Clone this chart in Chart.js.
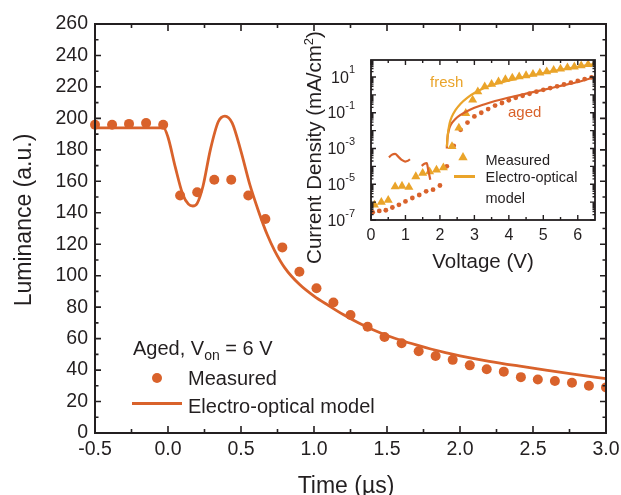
<!DOCTYPE html>
<html>
<head>
<meta charset="utf-8">
<script src="https://cdn.jsdelivr.net/npm/chart.js@4.4.1/dist/chart.umd.min.js"></script>
<style>
  html, body { margin: 0; padding: 0; background: #fff; }
  #wrap { position: relative; width: 621px; height: 495px; overflow: hidden; }
  #main { position: absolute; left: 0; top: 0; }
  #inset { position: absolute; left: 290px; top: 10px; }
</style>
</head>
<body>
<div id="wrap">
  <canvas id="main" width="621" height="495"></canvas>
  <canvas id="inset" width="320" height="270"></canvas>
</div>
<script>
// ---- Transient luminance (aged device, V_on = 6 V) ----
const timeUs = [-0.5, -0.383, -0.267, -0.15, -0.033, 0.083, 0.2, 0.317, 0.433, 0.55, 0.667,
  0.783, 0.9, 1.017, 1.133, 1.25, 1.367, 1.483, 1.6, 1.717, 1.833, 1.95, 2.067, 2.183,
  2.3, 2.417, 2.533, 2.65, 2.767, 2.883, 3.0];
const lumMeasured = [196, 196, 196.5, 197, 196, 151, 153, 161, 161, 151, 136,
  118, 102.5, 92, 83, 75, 67.5, 61, 57, 52, 49, 46.5, 43, 40.5,
  39, 35.5, 34, 33, 32, 30, 29];

const modelTimeUs = [-0.5, -0.03, 0.0, 0.05, 0.1, 0.14, 0.17, 0.2, 0.24, 0.29, 0.345, 0.39,
  0.44, 0.5, 0.56, 0.62, 0.68, 0.73, 0.8, 0.9, 1.0, 1.1, 1.2, 1.3, 1.4, 1.5, 1.6, 1.7,
  1.8, 1.9, 2.0, 2.2, 2.4, 2.6, 2.8, 3.0];
const modelLum = [194, 194, 188, 169, 152, 145.5, 144.3, 146, 157, 180, 198, 201.5,
  197, 179, 158, 141, 126, 116, 105, 94.5, 87, 81, 75.3, 70.2, 65.8, 62, 58.8, 56,
  53.4, 51.1, 49.1, 45.6, 42.6, 39.8, 37.1, 34.5];

const timeTicks = { min: -0.5, max: 3.0, step: 0.5 };
const lumTicks = { min: 0, max: 260, step: 20 };

// ---- Inset: J-V curves (mA/cm^2) ----
const freshV = [0.1, 0.3, 0.5, 0.7, 0.9, 1.1, 1.3, 1.5, 1.7, 1.9, 2.1, 2.35, 2.55, 2.75, 2.95,
  3.1, 3.3, 3.5, 3.7, 3.9, 4.1, 4.3, 4.5, 4.7, 4.9, 5.1, 5.3, 5.5, 5.7, 5.9, 6.1, 6.3, 6.5];
const freshJ = [7e-7, 1e-6, 1.3e-6, 7.4e-6, 7.9e-6, 6.9e-6, 2.7e-5, 4.2e-5, 5.1e-5, 6.3e-5, 8.5e-5,
  1.3e-3, 0.014, 0.093, 0.52, 1.5, 2.9, 4.0, 5.5, 7.2, 8.9, 10.5, 12, 14.5, 17, 20, 24, 28,
  33, 37, 43, 50, 57];

const agedV = [0.05, 0.24, 0.43, 0.62, 0.81, 1.0, 1.2, 1.4, 1.6, 1.8, 2.0, 2.2, 2.4, 2.6, 2.8,
  3.0, 3.2, 3.4, 3.6, 3.8, 4.0, 4.2, 4.4, 4.6, 4.8, 5.0, 5.2, 5.4, 5.6, 5.8, 6.0, 6.2, 6.4];
const agedJ = [2.7e-7, 3.2e-7, 3.5e-7, 5e-7, 7.1e-7, 1.1e-6, 1.7e-6, 2.5e-6, 4e-6, 5e-6, 8.5e-6,
  1e-4, 1.4e-3, 0.011, 0.028, 0.062, 0.1, 0.16, 0.25, 0.35, 0.5, 0.68, 0.89, 1.15, 1.5, 1.9,
  2.4, 3.0, 3.8, 4.8, 6.0, 7.6, 9.5];

const freshModelV = [2.2, 2.23, 2.28, 2.35, 2.45, 2.6, 2.8, 3.0, 3.3, 3.7, 4.2, 4.7, 5.2, 5.7, 6.2, 6.5];
const freshModelJ = [1.26e-3, 6.3e-3, 0.025, 0.063, 0.14, 0.32, 0.71, 1.26, 2.5, 4.5, 7.9, 12.6,
  20, 29.5, 42.7, 52.5];

const agedModelV = [2.2, 2.22, 2.26, 2.32, 2.45, 2.6, 2.8, 3.0, 3.3, 3.6, 4.0, 4.5, 5.0, 5.5, 6.0, 6.5];
const agedModelJ = [1e-3, 4e-3, 0.011, 0.022, 0.045, 0.076, 0.126, 0.19, 0.3, 0.45, 0.71, 1.17,
  1.9, 3.16, 5.25, 10];

// low-bias pieces of the aged model
const agedModelLowAV = [0.52, 0.6, 0.7, 0.79, 0.89, 0.99, 1.08, 1.13];
const agedModelLowAJ = [3.2e-4, 4.4e-4, 5e-4, 3.5e-4, 2.3e-4, 1.86e-4, 2.1e-4, 2.5e-4];
const agedModelLowBV = [1.47, 1.55, 1.62, 1.66, 1.69, 1.72];
const agedModelLowBJ = [1.07e-4, 1.4e-4, 1.5e-4, 6.3e-5, 3.5e-5, 1.8e-5];

const voltTicks = { min: 0, max: 6.5, step: 1 };
const jRange = { min: 1e-7, max: 89 };
const jLabelExponents = [1, -1, -3, -5, -7];

// ---- styling ----
const INK = '#231f20';
const AGED = '#d9622b';
const FRESH = '#eaa42a';
const FONT = "'Liberation Sans', Arial, Helvetica, sans-serif";

function pts(xs, ys) { return xs.map((x, i) => ({ x: x, y: ys[i] })); }

function drawRuns(ctx, runs, x, y, align) {
  let total = 0;
  runs.forEach(r => {
    ctx.font = r.size + 'px ' + FONT;
    r.w = ctx.measureText(r.text).width;
    total += r.w;
  });
  let cx = align === 'center' ? x - total / 2 : (align === 'right' ? x - total : x);
  ctx.textAlign = 'left';
  ctx.textBaseline = 'alphabetic';
  runs.forEach(r => {
    ctx.font = r.size + 'px ' + FONT;
    ctx.fillText(r.text, cx, y + (r.dy || 0));
    cx += r.w;
  });
}

function tickLines(ctx, scale, values, len, a, horizontal) {
  ctx.beginPath();
  values.forEach(v => {
    const p = scale.getPixelForValue(v);
    if (horizontal) {
      ctx.moveTo(p, a.bottom); ctx.lineTo(p, a.bottom - len);
      ctx.moveTo(p, a.top); ctx.lineTo(p, a.top + len);
    } else {
      ctx.moveTo(a.left, p); ctx.lineTo(a.left + len, p);
      ctx.moveTo(a.right, p); ctx.lineTo(a.right - len, p);
    }
  });
  ctx.stroke();
}

function midpoints(values) {
  const out = [];
  for (let i = 0; i < values.length - 1; i++) out.push((values[i] + values[i + 1]) / 2);
  return out;
}

function fixedBox(w, h) {
  return function (scale) {
    if (w !== null) scale.width = w;
    if (h !== null) scale.height = h;
    scale.paddingLeft = 0; scale.paddingRight = 0;
    scale.paddingTop = 0; scale.paddingBottom = 0;
  };
}

// ---- main chart ----
const mainDecor = {
  id: 'mainDecor',
  afterDraw(chart) {
    const ctx = chart.ctx, a = chart.chartArea;
    const xs = chart.scales.x, ys = chart.scales.y;
    ctx.save();
    ctx.strokeStyle = INK;
    ctx.lineCap = 'butt';
    ctx.lineWidth = 1.6;
    const xMaj = xs.ticks.map(t => t.value), yMaj = ys.ticks.map(t => t.value);
    tickLines(ctx, xs, xMaj, 7, a, true);
    tickLines(ctx, xs, midpoints(xMaj), 4, a, true);
    tickLines(ctx, ys, yMaj, 6, a, false);
    tickLines(ctx, ys, midpoints(yMaj), 3.5, a, false);
    ctx.lineWidth = 2;
    ctx.strokeRect(a.left, a.top, a.right - a.left, a.bottom - a.top);

    ctx.fillStyle = INK;
    // axis titles
    drawRuns(ctx, [{ text: 'Time (\u00b5s)', size: 23 }], 346, 493, 'center');
    ctx.save();
    ctx.translate(31, 220);
    ctx.rotate(-Math.PI / 2);
    drawRuns(ctx, [{ text: 'Luminance (a.u.)', size: 23 }], 0, 0, 'center');
    ctx.restore();

    // legend
    drawRuns(ctx, [
      { text: 'Aged, V', size: 20 },
      { text: 'on', size: 14, dy: 5 },
      { text: ' = 6 V', size: 20 }
    ], 133, 355, 'left');
    ctx.fillStyle = AGED;
    ctx.beginPath(); ctx.arc(157, 378, 5, 0, Math.PI * 2); ctx.fill();
    ctx.strokeStyle = AGED; ctx.lineWidth = 3;
    ctx.beginPath(); ctx.moveTo(132, 403.5); ctx.lineTo(182, 403.5); ctx.stroke();
    ctx.fillStyle = INK;
    drawRuns(ctx, [{ text: 'Measured', size: 20 }], 188, 385, 'left');
    drawRuns(ctx, [{ text: 'Electro-optical model', size: 20 }], 188, 413, 'left');
    ctx.restore();
  }
};

new Chart(document.getElementById('main'), {
  type: 'scatter',
  data: {
    datasets: [
      {
        label: 'Measured',
        data: pts(timeUs, lumMeasured),
        pointRadius: 5,
        pointBackgroundColor: AGED,
        pointBorderWidth: 0,
        showLine: false,
        clip: { left: 6, top: 6, right: 0, bottom: 6 }
      },
      {
        label: 'Electro-optical model',
        data: pts(modelTimeUs, modelLum),
        showLine: true,
        borderColor: AGED,
        borderWidth: 2.8,
        pointRadius: 0,
        cubicInterpolationMode: 'monotone'
      }
    ]
  },
  options: {
    responsive: false,
    animation: false,
    events: [],
    layout: { padding: { top: 24, right: 15, left: 0, bottom: 0 } },
    plugins: { legend: { display: false }, tooltip: { enabled: false } },
    scales: {
      x: {
        type: 'linear',
        min: timeTicks.min, max: timeTicks.max,
        grid: { display: false, drawTicks: false },
        border: { display: false },
        ticks: {
          stepSize: timeTicks.step, includeBounds: false, padding: 5,
          color: INK, font: { family: FONT, size: 19.5 },
          callback: v => Number(v).toFixed(1)
        },
        afterFit: fixedBox(null, 62)
      },
      y: {
        type: 'linear',
        min: lumTicks.min, max: lumTicks.max,
        grid: { display: false, drawTicks: false },
        border: { display: false },
        ticks: {
          stepSize: lumTicks.step, includeBounds: false, padding: 7,
          color: INK, font: { family: FONT, size: 19.5 }
        },
        afterFit: fixedBox(95, null)
      }
    }
  },
  plugins: [mainDecor]
});

// ---- inset chart ----
const insetDecor = {
  id: 'insetDecor',
  afterDraw(chart) {
    const ctx = chart.ctx, a = chart.chartArea;
    const xs = chart.scales.x, ys = chart.scales.y;
    ctx.save();
    ctx.strokeStyle = INK;
    ctx.lineWidth = 1.4;
    const xMaj = xs.ticks.map(t => t.value);
    const xMin = midpoints(xMaj.concat([xMaj[xMaj.length - 1] + 1])).filter(v => v < voltTicks.max);
    tickLines(ctx, xs, xMaj, 5, a, true);
    tickLines(ctx, xs, xMin, 3, a, true);
    const decades = [], minors = [];
    for (let e = -7; e <= 1; e++) {
      decades.push(Math.pow(10, e));
      for (let k = 2; k <= 9; k++) {
        const v = k * Math.pow(10, e);
        if (v < jRange.max) minors.push(v);
      }
    }
    tickLines(ctx, ys, decades, 5, a, false);
    tickLines(ctx, ys, minors, 2.5, a, false);
    ctx.lineWidth = 1.8;
    ctx.strokeRect(a.left, a.top, a.right - a.left, a.bottom - a.top);

    // y tick labels as powers of ten
    ctx.fillStyle = INK;
    jLabelExponents.forEach(e => {
      const y = ys.getPixelForValue(Math.pow(10, e));
      drawRuns(ctx, [
        { text: '10', size: 16, dy: 5.7 },
        { text: e < 0 ? '-' + Math.abs(e) : String(e), size: 11, dy: -3.5 }
      ], 65, y, 'right');
    });

    // axis titles
    drawRuns(ctx, [{ text: 'Voltage (V)', size: 20.5 }], 193, 258, 'center');
    ctx.save();
    ctx.translate(31, 137.5);
    ctx.rotate(-Math.PI / 2);
    drawRuns(ctx, [
      { text: 'Current Density (mA/cm', size: 20.5 },
      { text: '2', size: 13, dy: -8 },
      { text: ')', size: 20.5 }
    ], 0, 0, 'center');
    ctx.restore();

    // curve labels
    ctx.fillStyle = FRESH;
    drawRuns(ctx, [{ text: 'fresh', size: 15 }], 140, 77, 'left');
    ctx.fillStyle = AGED;
    drawRuns(ctx, [{ text: 'aged', size: 15 }], 218, 107, 'left');

    // legend
    ctx.fillStyle = FRESH;
    const tx = 173, ty = 147.5, r = 5.4;
    ctx.beginPath();
    ctx.moveTo(tx, ty - r);
    ctx.lineTo(tx + r * 0.866, ty + r * 0.5);
    ctx.lineTo(tx - r * 0.866, ty + r * 0.5);
    ctx.closePath(); ctx.fill();
    ctx.strokeStyle = FRESH; ctx.lineWidth = 3;
    ctx.beginPath(); ctx.moveTo(164, 166.5); ctx.lineTo(185, 166.5); ctx.stroke();
    ctx.fillStyle = INK;
    drawRuns(ctx, [{ text: 'Measured', size: 14.5 }], 195.5, 154.5, 'left');
    drawRuns(ctx, [{ text: 'Electro-optical', size: 14.5 }], 195.5, 172, 'left');
    drawRuns(ctx, [{ text: 'model', size: 14.5 }], 195.5, 193, 'left');
    ctx.restore();
  }
};

const lineSet = (label, xs, ys, color) => ({
  label: label,
  data: pts(xs, ys),
  showLine: true,
  borderColor: color,
  borderWidth: 2.2,
  pointRadius: 0,
  cubicInterpolationMode: 'monotone'
});

new Chart(document.getElementById('inset'), {
  type: 'scatter',
  data: {
    datasets: [
      lineSet('fresh model', freshModelV, freshModelJ, FRESH),
      lineSet('aged model', agedModelV, agedModelJ, AGED),
      lineSet('aged model low A', agedModelLowAV, agedModelLowAJ, AGED),
      lineSet('aged model low B', agedModelLowBV, agedModelLowBJ, AGED),
      {
        label: 'fresh measured',
        data: pts(freshV, freshJ),
        pointStyle: 'triangle',
        pointRadius: 5.2,
        pointBackgroundColor: FRESH,
        pointBorderWidth: 0,
        showLine: false
      },
      {
        label: 'aged measured',
        data: pts(agedV, agedJ),
        pointRadius: 2.4,
        pointBackgroundColor: AGED,
        pointBorderWidth: 0,
        showLine: false
      }
    ]
  },
  options: {
    responsive: false,
    animation: false,
    events: [],
    layout: { padding: { top: 50, right: 15, left: 0, bottom: 0 } },
    plugins: { legend: { display: false }, tooltip: { enabled: false } },
    scales: {
      x: {
        type: 'linear',
        min: voltTicks.min, max: voltTicks.max,
        grid: { display: false, drawTicks: false },
        border: { display: false },
        ticks: {
          stepSize: voltTicks.step, includeBounds: false, padding: 6,
          color: INK, font: { family: FONT, size: 16 }
        },
        afterFit: fixedBox(null, 60)
      },
      y: {
        type: 'logarithmic',
        min: jRange.min, max: jRange.max,
        grid: { display: false, drawTicks: false },
        border: { display: false },
        ticks: { display: false },
        afterFit: fixedBox(81, null)
      }
    }
  },
  plugins: [insetDecor]
});
</script>
</body>
</html>
